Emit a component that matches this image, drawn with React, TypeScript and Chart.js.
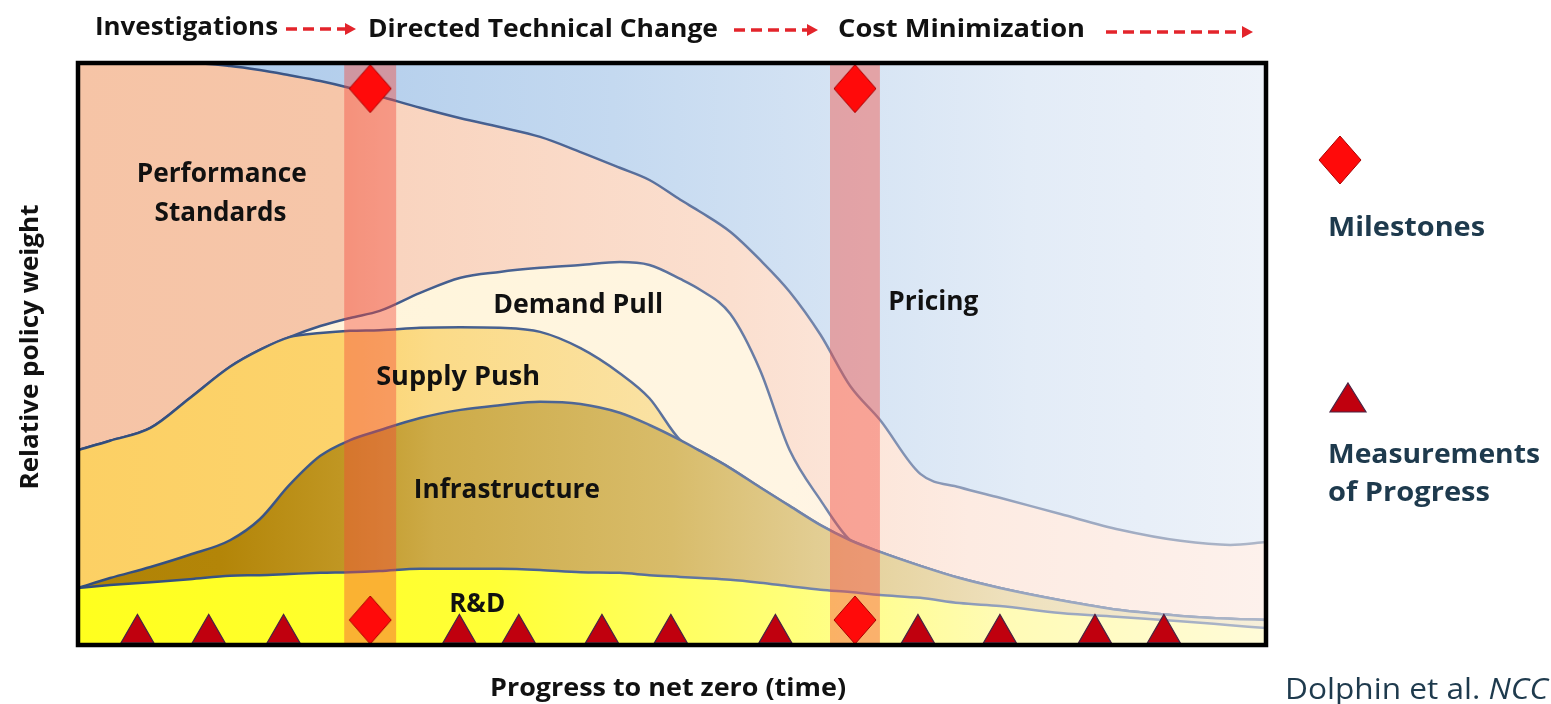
import React, { useEffect, useRef } from "react";
import { Chart, registerables } from "chart.js";

Chart.register(...registerables);

// ---- data (time 0..100, relative policy weight 0..100, cumulative from bottom) ----
const timeGrid = [0, 2.7, 6.1, 9.4, 12.8, 15.3, 17.8, 20.4, 22.9, 25.4, 28.8, 32.2, 35.5, 38.9, 42.3, 45.6, 48.1, 50.7, 52.4, 54.9, 57.4, 59.9, 62.5, 65.0, 67.5, 70.9, 74.2, 77.6, 82.7, 87.7, 92.8, 97.0, 100];
const rdTop = [9.8, 10.3, 10.8, 11.3, 11.9, 12.0, 12.2, 12.4, 12.5, 12.7, 13.1, 13.1, 13.1, 12.9, 12.5, 12.4, 12.0, 11.7, 11.5, 11.2, 10.7, 10.1, 9.5, 9.1, 8.6, 8.1, 7.2, 6.7, 5.5, 4.8, 4.1, 3.4, 2.9];
const infraTop = [9.8, 11.5, 13.4, 15.5, 18.0, 21.6, 27.5, 32.5, 35.2, 36.9, 39.0, 40.4, 41.2, 41.8, 41.4, 39.9, 37.8, 35.2, 33.3, 30.4, 27.1, 23.9, 20.6, 18.0, 16.0, 13.6, 11.5, 9.8, 7.7, 6.0, 5.0, 4.5, 4.3];
const supplyTop = [33.5, 35.1, 37.3, 42.4, 47.8, 50.7, 52.9, 53.6, 54.0, 54.1, 54.5, 54.6, 54.5, 53.8, 51.0, 46.7, 42.4, 35.2, 33.3, 30.4, 27.1, 23.9, 20.6, 18.0, 16.0, 13.6, 11.5, 9.8, 7.7, 6.0, 5.0, 4.5, 4.3];
const demandTop = [33.5, 35.1, 37.3, 42.4, 47.8, 50.7, 52.9, 54.8, 56.2, 57.4, 60.5, 63.1, 64.1, 64.8, 65.3, 65.8, 65.3, 62.9, 61.0, 56.9, 47.3, 33.5, 24.9, 18.0, 16.0, 13.6, 11.5, 9.8, 7.7, 6.0, 5.0, 4.5, 4.3];
const standardsTop = [100, 100, 100, 100, 99.5, 98.8, 97.9, 96.9, 95.7, 94.3, 92.3, 90.5, 89.0, 87.3, 84.7, 82.0, 79.9, 76.5, 74.4, 71.0, 66.2, 60.7, 53.3, 44.5, 38.7, 29.4, 27.1, 25.3, 22.5, 19.8, 17.9, 17.2, 17.7];
const pricingTop = [100, 100, 100, 100, 100, 100, 100, 100, 100, 100, 100, 100, 100, 100, 100, 100, 100, 100, 100, 100, 100, 100, 100, 100, 100, 100, 100, 100, 100, 100, 100, 100, 100];

const milestoneTimes = [24.6, 65.4];
const milestoneLevels = [95.6, 4.3];
const windowStart = [22.4, 63.3];
const windowEnd = [26.8, 67.5];
const progressTimes = [5.0, 11.0, 17.3, 32.1, 37.1, 44.1, 49.9, 58.7, 70.7, 77.6, 85.6, 91.4];
const progressLevel = 2.0;

const phaseNames = ["Investigations", "Directed Technical Change", "Cost Minimization"];
const seriesNames = ["R&D", "Infrastructure", "Supply Push", "Demand Pull", "Performance Standards", "Pricing"];

// ---- styles ----
const W = 1551;
const H = 704;
const PLOT = { left: 78, top: 63, right: 1266, bottom: 645 };
const BOLD = "'Open Sans', Lato, sans-serif";
const REG = "'Open Sans', Lato, sans-serif";

type Stop = [number, string];
const lineStops: Stop[] = [[0, "#304c7c"], [0.4, "#4b6494"], [0.62, "#7284aa"], [0.8, "#98a5bf"], [1, "#adb6c8"]];
const fillStops: Stop[][] = [
  [[0, "#ffff1e"], [0.35, "#ffff36"], [0.6, "#ffff7a"], [0.78, "#fffbb6"], [1, "#fffbd8"]],
  [[0, "#b08305"], [0.12, "#b38508"], [0.22, "#c09622"], [0.3, "#cdab48"], [0.5, "#d8bc6a"], [0.62, "#e2cd92"], [0.78, "#eee0bc"], [1, "#f6efdb"]],
  [[0, "#fcd064"], [0.22, "#fcd36c"], [0.3, "#fbdb88"], [0.5, "#fae2a4"], [1, "#faeccc"]],
  [[0, "#fff2d8"], [0.3, "#fff5dc"], [0.6, "#fff5e3"], [0.75, "#fdf0e6"], [1, "#fdf0e6"]],
  [[0, "#f6c4a6"], [0.22, "#f6c6a9"], [0.27, "#f9d4bf"], [0.55, "#fbdfcf"], [0.75, "#fdebe2"], [1, "#fdf1ec"]],
  [[0, "#a6c6ea"], [0.15, "#b0cceb"], [0.45, "#c4d9f0"], [0.65, "#d6e4f4"], [0.8, "#e3ecf7"], [1, "#edf2f9"]],
];
const bandColor = "rgba(244, 72, 58, 0.42)";

function grad(chart: any, stops: Stop[]) {
  const area = chart.chartArea;
  if (!area) return stops[0][1];
  const g = chart.ctx.createLinearGradient(area.left, 0, area.right, 0);
  stops.forEach(([o, c]) => g.addColorStop(o, c));
  return g;
}

function makeDiamond(): HTMLCanvasElement {
  const c = document.createElement("canvas");
  c.width = 44;
  c.height = 50;
  const x = c.getContext("2d")!;
  x.beginPath();
  x.moveTo(22, 1);
  x.lineTo(43, 25);
  x.lineTo(22, 49);
  x.lineTo(1, 25);
  x.closePath();
  x.fillStyle = "#ff0a0a";
  x.fill();
  x.strokeStyle = "#a80000";
  x.lineWidth = 1;
  x.stroke();
  return c;
}

function dashedArrow(ctx: CanvasRenderingContext2D, x1: number, x2: number, y: number) {
  ctx.save();
  ctx.strokeStyle = "#e3242b";
  ctx.fillStyle = "#e3242b";
  ctx.lineWidth = 3.5;
  ctx.setLineDash([11, 6]);
  ctx.beginPath();
  ctx.moveTo(x1, y);
  ctx.lineTo(x2 - 9, y);
  ctx.stroke();
  ctx.setLineDash([]);
  ctx.beginPath();
  ctx.moveTo(x2, y);
  ctx.lineTo(x2 - 11, y - 6);
  ctx.lineTo(x2 - 11, y + 6);
  ctx.closePath();
  ctx.fill();
  ctx.restore();
}

// draw text stretched/condensed horizontally to a given width
function fitText(ctx: CanvasRenderingContext2D, text: string, x: number, y: number, width: number, align: "left" | "center" = "left") {
  const w = ctx.measureText(text).width;
  const s = width / w;
  const x0 = align === "center" ? x - width / 2 : x;
  ctx.save();
  ctx.translate(x0, y);
  ctx.scale(s, 1);
  ctx.textAlign = "left";
  ctx.fillText(text, 0, 0);
  ctx.restore();
}

export default function App() {
  const ref = useRef<HTMLCanvasElement | null>(null);

  useEffect(() => {
    const canvas = ref.current!;
    const diamond = makeDiamond();
    const pts = (ys: number[]) => timeGrid.map((t, i) => ({ x: t, y: ys[i] }));
    const tops = [rdTop, infraTop, supplyTop, demandTop, standardsTop, pricingTop];

    const areaSets: any[] = tops.map((ys, i) => ({
      type: "line",
      label: seriesNames[i],
      data: pts(ys),
      fill: i === 0 ? "origin" : "-1",
      order: 3 + i,
      backgroundColor: (c: any) => grad(c.chart, fillStops[i]),
      borderColor: (c: any) => grad(c.chart, lineStops),
      borderWidth: i === 5 ? 0 : 2.5,
      pointRadius: 0,
      cubicInterpolationMode: "monotone",
    }));

    const bandSets: any[] = windowStart.map((s, i) => ({
      type: "line",
      label: "Milestone window " + (i + 1),
      data: [{ x: s, y: 100 }, { x: windowEnd[i], y: 100 }],
      fill: "origin",
      order: 2,
      backgroundColor: bandColor,
      borderWidth: 0,
      pointRadius: 0,
      tension: 0,
    }));

    const milestonePts: { x: number; y: number }[] = [];
    milestoneLevels.forEach((lv) => milestoneTimes.forEach((t) => milestonePts.push({ x: t, y: lv })));

    const markerSets: any[] = [
      {
        type: "line",
        label: "Milestones",
        data: milestonePts,
        showLine: false,
        pointStyle: diamond,
        pointRadius: 24,
        order: 1,
        clip: false,
      },
      {
        type: "line",
        label: "Measurements of Progress",
        data: progressTimes.map((t) => ({ x: t, y: progressLevel })),
        showLine: false,
        pointStyle: "triangle",
        pointRadius: 19,
        backgroundColor: "#c0000e",
        borderColor: "#4b2443",
        borderWidth: 1.2,
        order: 0,
        clip: false,
      },
    ];

    const overlay = {
      id: "overlay",
      afterDraw(chart: any) {
        const ctx: CanvasRenderingContext2D = chart.ctx;
        const xs = chart.scales.x;
        const ys = chart.scales.y;
        const a = chart.chartArea;
        ctx.save();
        // plot frame
        ctx.strokeStyle = "#000";
        ctx.lineWidth = 4.5;
        ctx.strokeRect(a.left, a.top, a.right - a.left, a.bottom - a.top);

        // area labels
        ctx.fillStyle = "#111";
        ctx.textBaseline = "middle";
        ctx.font = `bold 26px ${BOLD}`;
        const lab = (t: string, x: number, y: number, width: number) =>
          fitText(ctx, t, xs.getPixelForValue(x), ys.getPixelForValue(y), width, "center");
        lab("Performance", 12.1, 80.8, 170);
        lab("Standards", 12.0, 74.2, 132);
        lab(seriesNames[3], 42.1, 58.4, 170);
        lab(seriesNames[2], 32.0, 46.0, 164);
        lab(seriesNames[1], 36.1, 26.6, 186);
        lab(seriesNames[0], 33.6, 7.0, 56);
        lab(seriesNames[5], 72.0, 58.8, 90);

        // top phases
        ctx.font = `bold 25px ${BOLD}`;
        ctx.fillStyle = "#111";
        fitText(ctx, phaseNames[0], 95, 28, 183);
        fitText(ctx, phaseNames[1], 368, 30, 350);
        fitText(ctx, phaseNames[2], 838, 30, 247);
        dashedArrow(ctx, 286, 356, 29);
        dashedArrow(ctx, 734, 818, 30);
        dashedArrow(ctx, 1106, 1253, 32);

        // axis titles
        ctx.font = `bold 25px ${BOLD}`;
        fitText(ctx, "Progress to net zero (time)", 668, 689, 356, "center");
        ctx.save();
        ctx.translate(31, 347);
        ctx.rotate(-Math.PI / 2);
        fitText(ctx, "Relative policy weight", 0, 0, 285, "center");
        ctx.restore();

        // legend
        ctx.drawImage(diamond, 1340 - 22, 160 - 25);
        ctx.beginPath();
        ctx.moveTo(1348, 383);
        ctx.lineTo(1366, 412);
        ctx.lineTo(1330, 412);
        ctx.closePath();
        ctx.fillStyle = "#c0000e";
        ctx.fill();
        ctx.strokeStyle = "#4b2443";
        ctx.lineWidth = 1.2;
        ctx.stroke();

        ctx.fillStyle = "#1e3a4d";
        ctx.font = `bold 26px ${BOLD}`;
        fitText(ctx, "Milestones", 1328, 229, 157);
        fitText(ctx, "Measurements", 1328, 456, 212);
        fitText(ctx, "of Progress", 1328, 494, 162);

        // citation: regular + italic, fitted to its width
        const part = "Dolphin et al. ";
        ctx.font = `30px ${REG}`;
        const w1 = ctx.measureText(part).width;
        ctx.font = `italic 30px ${REG}`;
        const w2 = ctx.measureText("NCC").width;
        const s = 263 / (w1 + w2);
        ctx.save();
        ctx.translate(1285, 690);
        ctx.scale(s, 1);
        ctx.textAlign = "left";
        ctx.font = `30px ${REG}`;
        ctx.fillText(part, 0, 0);
        ctx.font = `italic 30px ${REG}`;
        ctx.fillText("NCC", w1, 0);
        ctx.restore();
        ctx.restore();
      },
    };

    const chart = new Chart(canvas, {
      type: "line",
      data: { datasets: [...areaSets, ...bandSets, ...markerSets] },
      options: {
        animation: false,
        responsive: false,
        events: [],
        layout: {
          padding: {
            left: PLOT.left,
            top: PLOT.top,
            right: W - PLOT.right,
            bottom: H - PLOT.bottom,
          },
        },
        scales: {
          x: { type: "linear", min: 0, max: 100, display: false },
          y: { type: "linear", min: 0, max: 100, display: false },
        },
        plugins: {
          legend: { display: false },
          tooltip: { enabled: false },
        },
      },
      plugins: [overlay],
    } as any);

    return () => chart.destroy();
  }, []);

  return (
    <div style={{ position: "fixed", left: 0, top: 0, width: W, height: H, background: "#fff", overflow: "hidden" }}>
      <canvas ref={ref} width={W} height={H} style={{ width: W, height: H, display: "block" }} />
    </div>
  );
}
